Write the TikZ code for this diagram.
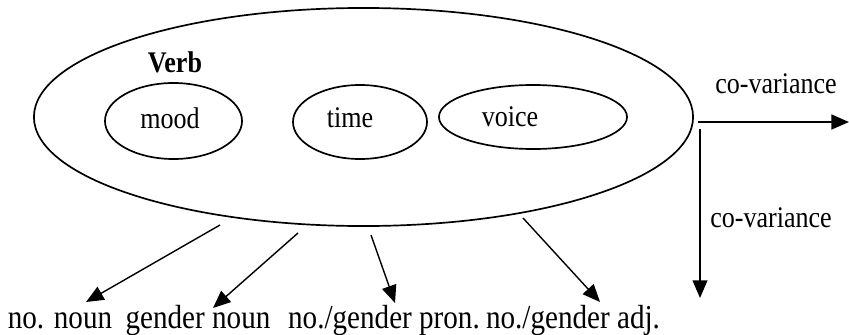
\documentclass[tikz,border=0pt]{standalone}
\usepackage{fontspec}
\setmainfont{Liberation Serif}[FakeStretch=0.87]
\usetikzlibrary{shapes.geometric,arrows.meta}

\begin{document}
\begin{tikzpicture}[x=0.025cm, y=-0.025cm,
  oval/.style={draw, ellipse, line width=1.2pt, inner sep=0pt},
  lbl/.style={font=\fontsize{21.3}{24}\selectfont, inner sep=0pt, anchor=base},
  low/.style={font=\fontsize{23.8}{27}\selectfont, inner sep=0pt, anchor=base},
  arr/.style={-{Triangle[length=12.5pt,width=10.5pt]}, line width=1pt}]
  \useasboundingbox (0,0) rectangle (849,335);
  % the verb and its categories
  \node[oval, minimum width=16.475cm, minimum height=5.45cm] (verb) at (363.5,117) {};
  \node[oval, minimum width=3.425cm, minimum height=1.9cm] (mood) at (173.5,121) {};
  \node[oval, minimum width=3.35cm, minimum height=1.85cm] (time) at (360,122) {};
  \node[oval, minimum width=4.7cm, minimum height=1.6cm] (voice) at (533,117) {};
  \node[lbl, font=\fontsize{21.3}{24}\selectfont\bfseries] (verbtxt) at (175,72) {Verb};
  \node[lbl] (moodtxt) at (170,128) {mood};
  \node[lbl] (timetxt) at (350,127) {time};
  \node[lbl] (voicetxt) at (510,126) {voice};
  % co-variance arrows
  \coordinate (h0) at (698,122);
  \coordinate (h1) at (849,122);
  \coordinate (v0) at (700,129);
  \coordinate (v1) at (700,298);
  \draw[arr, line width=1.6pt] (h0) -- (h1);
  \draw[arr] (v0) -- (v1);
  \node[lbl] (covh) at (776,93) {co-variance};
  \node[lbl] (covv) at (771,227) {co-variance};
  % agreement targets
  \node[low] (nonoun) at (60,328) {no. noun};
  \node[low] (gendernoun) at (198,328) {gender noun};
  \node[low] (pron) at (384,328) {no./gender pron.};
  \node[low] (adj) at (573,328) {no./gender adj.};
  \coordinate (s1) at (220,225);
  \coordinate (t1) at (86,302);
  \coordinate (s2) at (298,233);
  \coordinate (t2) at (213,308);
  \coordinate (s3) at (371,235);
  \coordinate (t3) at (395,303);
  \coordinate (s4) at (523,218);
  \coordinate (t4) at (600,302);
  \draw[arr] (s1) -- (t1);
  \draw[arr] (s2) -- (t2);
  \draw[arr] (s3) -- (t3);
  \draw[arr] (s4) -- (t4);
\end{tikzpicture}
\end{document}
